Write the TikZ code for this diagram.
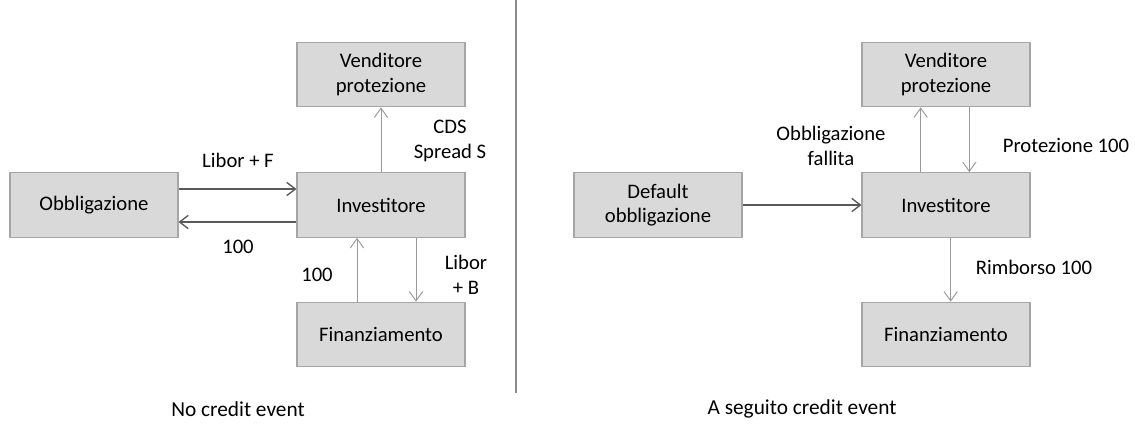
\documentclass[tikz,border=0pt]{standalone}
\usepackage{fontspec}
\setmainfont{Carlito}
\usetikzlibrary{arrows.meta}
\begin{document}
\begin{tikzpicture}[x=0.75pt,y=-0.75pt,
  box/.style={draw=black!35,fill=black!15,line width=0.8pt,minimum width=126pt,minimum height=48.5pt,align=center,font=\fontsize{15.5}{18.5}\selectfont,inner sep=2pt},
  lbl/.style={align=center,font=\fontsize{15.5}{18.5}\selectfont,inner sep=1pt},
  caption/.style={font=\fontsize{16}{19}\selectfont,inner sep=1pt},
  dark/.style={draw=black!65,line width=1pt,-{Straight Barb[length=6.5pt,width=10pt]}},
  light/.style={draw=black!40,line width=0.7pt,-{Straight Barb[length=7pt,width=10pt]}}]
\useasboundingbox (0,0) rectangle (1135,430);
\fill[white] (0,0) rectangle (1135,430);

% left panel: no credit event
\node[box] (ob)  at (94,205)  {Obbligazione};
\node[box] (inv) at (381,205) {Investitore};
\node[box] (ven) at (381,74.5) {Venditore\\protezione};
\node[box] (fin) at (381,334.5) {Finanziamento};

\draw[dark] ([yshift=12pt]ob.east) -- ([yshift=12pt]inv.west);
\draw[dark] ([yshift=-12.75pt]inv.west) -- ([yshift=-12.75pt]ob.east);
\draw[light] (inv.north) -- (ven.south);
\draw[light] ([xshift=-18pt]fin.north) -- ([xshift=-18pt]inv.south);
\draw[light] ([xshift=26.25pt]inv.south) -- ([xshift=26.25pt]fin.north);

\node[lbl] (l1) at (238,160) {Libor + F};
\node[lbl] (l2) at (238,247) {100};
\node[lbl] (l3) at (450,141) {CDS\\Spread S};
\node[lbl] (l4) at (317,275) {100};
\node[lbl] (l5) at (466,275) {Libor\\+ B};
\node[caption] (c1) at (238,409) {No credit event};

% separator
\coordinate (s1) at (516,0);
\coordinate (s2) at (516,393);
\draw[black!45,line width=0.8pt] (s1) -- (s2);

% right panel: after the credit event
\node[box] (dob)  at (658,205)  {Default\\obbligazione};
\node[box] (inv2) at (946,205)  {Investitore};
\node[box] (ven2) at (946,74.5) {Venditore\\protezione};
\node[box] (fin2) at (946,334.5) {Finanziamento};

\draw[dark] (dob.east) -- (inv2.west);
\draw[light] ([xshift=-19pt]inv2.north) -- ([xshift=-19pt]ven2.south);
\draw[light] ([xshift=17.5pt]ven2.south) -- ([xshift=17.5pt]inv2.north);
\draw[light] ([xshift=3.5pt]inv2.south) -- ([xshift=3.5pt]fin2.north);

\node[lbl] (r1) at (831,146) {Obbligazione\\fallita};
\node[lbl] (r2) at (1066,145) {Protezione 100};
\node[lbl] (r3) at (1034,267) {Rimborso 100};
\node[caption] (c2) at (802,409) {A seguito credit event};
\end{tikzpicture}
\end{document}
